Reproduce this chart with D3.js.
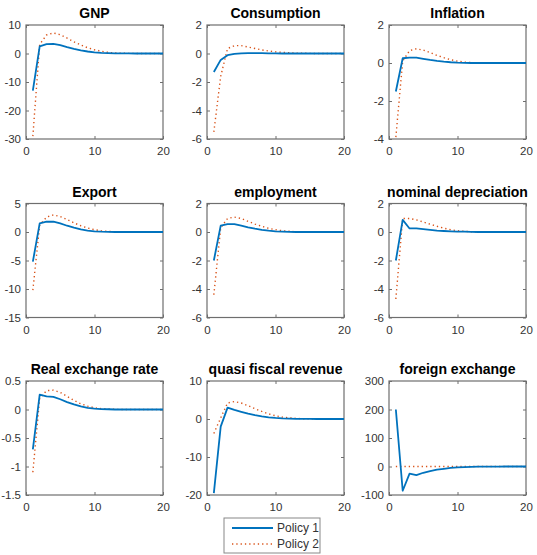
<!DOCTYPE html>
<html><head><meta charset="utf-8">
<script src="https://cdn.jsdelivr.net/npm/d3@7"></script>
<style>body{margin:0;background:#fff}svg{display:block}</style>
</head><body>
<svg id="c" width="537" height="555"></svg>
<script>
const periods = [1,2,3,4,5,6,7,8,9,10,11,12,13,14,15,16,17,18,19,20];
const xTicks = [0,10,20];
const titles = ["GNP","Consumption","Inflation","Export","employment","nominal depreciation","Real exchange rate","quasi fiscal revenue","foreign exchange"];
const seriesNames = ["Policy 1","Policy 2"];

const yTicksGNP = [-30,-20,-10,0,10];
const yTicksCons = [-6,-4,-2,0,2];
const yTicksInf = [-4,-2,0,2];
const yTicksExp = [-15,-10,-5,0,5];
const yTicksEmp = [-6,-4,-2,0,2];
const yTicksDep = [-6,-4,-2,0,2];
const yTicksRer = [-1.5,-1,-0.5,0,0.5];
const yTicksQfr = [-20,-10,0,10];
const yTicksFx = [-100,0,100,200,300];

const gnp1 = [-13,2.5,3.3,3.4,2.9,2.2,1.6,1.1,0.7,0.4,0.2,0.1,0.05,0.02,0.01,0,0,0,0,0];
const gnp2 = [-29,3.2,6.5,7.2,6.6,5.4,4.1,3.0,2.0,1.3,0.8,0.4,0.2,0.1,0.05,0.02,0.01,0,0,0];
const cons1 = [-1.3,-0.45,-0.12,-0.03,0.01,0.02,0.02,0.02,0.01,0.01,0,0,0,0,0,0,0,0,0,0];
const cons2 = [-5.5,-1.6,0.35,0.55,0.55,0.45,0.35,0.25,0.18,0.12,0.08,0.05,0.03,0.02,0.01,0,0,0,0,0];
const inf1 = [-1.5,0.25,0.28,0.28,0.22,0.16,0.11,0.07,0.04,0.02,0.01,0,0,0,0,0,0,0,0,0];
const inf2 = [-3.9,0.1,0.65,0.75,0.68,0.55,0.4,0.28,0.17,0.1,0.05,0.02,0.01,0,0,0,0,0,0,0];
const exp1 = [-5.2,1.5,1.8,1.8,1.5,1.1,0.75,0.45,0.25,0.12,0.05,0.02,0,0,0,0,0,0,0,0];
const exp2 = [-10.2,1.2,2.6,3.0,2.7,2.2,1.6,1.1,0.7,0.4,0.2,0.1,0.05,0.02,0,0,0,0,0,0];
const emp1 = [-2,0.45,0.55,0.55,0.45,0.33,0.23,0.15,0.09,0.05,0.03,0.01,0,0,0,0,0,0,0,0];
const emp2 = [-4.4,0.3,0.95,1.05,0.95,0.75,0.56,0.4,0.26,0.16,0.09,0.05,0.02,0.01,0,0,0,0,0,0];
const dep1 = [-2,0.85,0.25,0.25,0.2,0.15,0.1,0.07,0.05,0.03,0.02,0.01,0,0,0,0,0,0,0,0];
const dep2 = [-4.7,0.95,0.95,0.85,0.7,0.55,0.4,0.27,0.16,0.09,0.05,0.02,0.01,0,0,0,0,0,0,0];
const rer1 = [-0.7,0.26,0.23,0.22,0.18,0.13,0.09,0.055,0.03,0.015,0.008,0.004,0,0,0,0,0,0,0,0];
const rer2 = [-1.1,0.2,0.33,0.34,0.3,0.23,0.16,0.1,0.06,0.03,0.015,0.008,0.004,0,0,0,0,0,0,0];
const qfr1 = [-19.5,-2,3,2.4,1.9,1.4,1.0,0.7,0.45,0.28,0.17,0.1,0.05,0.02,0.01,0,0,0,0,0];
const qfr2 = [-3.8,0.3,4.2,4.6,4.2,3.5,2.7,2.0,1.35,0.85,0.5,0.3,0.15,0.08,0.04,0.02,0.01,0,0,0];
const fx1 = [200,-85,-25,-30,-22,-16,-11,-8,-5,-3,-2,-1.2,-0.7,-0.4,-0.2,-0.1,0,0,0,0];
const fx2 = [0,0,0,0,0,0,0,0,0,0,0,0,0,0,0,0,0,0,0,0];

const panels = [
  {title:titles[0], ticks:yTicksGNP, s1:gnp1, s2:gnp2},
  {title:titles[1], ticks:yTicksCons, s1:cons1, s2:cons2},
  {title:titles[2], ticks:yTicksInf, s1:inf1, s2:inf2},
  {title:titles[3], ticks:yTicksExp, s1:exp1, s2:exp2},
  {title:titles[4], ticks:yTicksEmp, s1:emp1, s2:emp2},
  {title:titles[5], ticks:yTicksDep, s1:dep1, s2:dep2},
  {title:titles[6], ticks:yTicksRer, s1:rer1, s2:rer2},
  {title:titles[7], ticks:yTicksQfr, s1:qfr1, s2:qfr2},
  {title:titles[8], ticks:yTicksFx, s1:fx1, s2:fx2}
];

const colLeft = [26, 207, 389];
const rowTop = [25, 203.5, 381];
const W = 137, H = 114;
const c1 = "#0072BD", c2 = "#D95319";
const axisCol = "#6e6e6e", textCol = "#333";
const font = "'Liberation Sans', Arial, Helvetica, sans-serif";

const svg = d3.select("#c");

panels.forEach((p, i) => {
  const L = colLeft[i % 3], T = rowTop[Math.floor(i / 3)];
  const g = svg.append("g").attr("transform", `translate(${L},${T})`);
  const x = d3.scaleLinear().domain([xTicks[0], xTicks[xTicks.length-1]]).range([0, W]);
  const y = d3.scaleLinear().domain([p.ticks[0], p.ticks[p.ticks.length-1]]).range([H, 0]);

  const styleAxis = (sel, showText) => {
    sel.select(".domain").remove();
    sel.selectAll(".tick line").attr("stroke", axisCol).attr("stroke-width", 1);
    sel.selectAll(".tick text").attr("fill", textCol).style("font-family", font).style("font-size", "11.5px");
    if (!showText) sel.selectAll(".tick text").remove();
  };
  g.append("g").attr("transform", `translate(0,${H})`)
    .call(d3.axisBottom(x).tickValues(xTicks).tickSize(-3).tickPadding(8).tickFormat(d3.format("d")))
    .call(s => styleAxis(s, true));
  g.append("g")
    .call(d3.axisTop(x).tickValues(xTicks).tickSize(-3))
    .call(s => styleAxis(s, false));
  g.append("g")
    .call(d3.axisLeft(y).tickValues(p.ticks).tickSize(-3).tickPadding(5).tickFormat(d => String(d)))
    .call(s => styleAxis(s, true));
  g.append("g").attr("transform", `translate(${W},0)`)
    .call(d3.axisRight(y).tickValues(p.ticks).tickSize(-3))
    .call(s => styleAxis(s, false));

  g.append("rect").attr("x", 0).attr("y", 0).attr("width", W).attr("height", H)
    .attr("fill", "none").attr("stroke", axisCol).attr("stroke-width", 1.2);

  const line = d3.line().x((d, k) => x(periods[k])).y(d => y(d));
  g.append("path").datum(p.s2).attr("d", line).attr("fill", "none")
    .attr("stroke", c2).attr("stroke-width", 1.4).attr("stroke-dasharray", "1.3,3");
  g.append("path").datum(p.s1).attr("d", line).attr("fill", "none")
    .attr("stroke", c1).attr("stroke-width", 1.8).attr("stroke-linejoin", "round");

  svg.append("text").attr("x", L + W / 2).attr("y", T - 7)
    .attr("text-anchor", "middle").attr("fill", "#000")
    .style("font-family", font).style("font-size", "14px").style("font-weight", "bold")
    .text(p.title);
});

// legend
const lg = svg.append("g").attr("transform", "translate(224,518)");
lg.append("rect").attr("x", 0).attr("y", 0).attr("width", 96).attr("height", 35)
  .attr("fill", "#fff").attr("stroke", "#888").attr("stroke-width", 1);
seriesNames.forEach((n, k) => {
  const yy = 10 + k * 16;
  lg.append("line").attr("x1", 8).attr("x2", 49).attr("y1", yy).attr("y2", yy)
    .attr("stroke", k === 0 ? c1 : c2).attr("stroke-width", k === 0 ? 1.8 : 1.4)
    .attr("stroke-dasharray", k === 0 ? null : "1.3,3");
  lg.append("text").attr("x", 53).attr("y", yy).attr("dy", "0.35em")
    .attr("fill", textCol).style("font-family", font).style("font-size", "12px").text(n);
});
</script>
</body></html>
